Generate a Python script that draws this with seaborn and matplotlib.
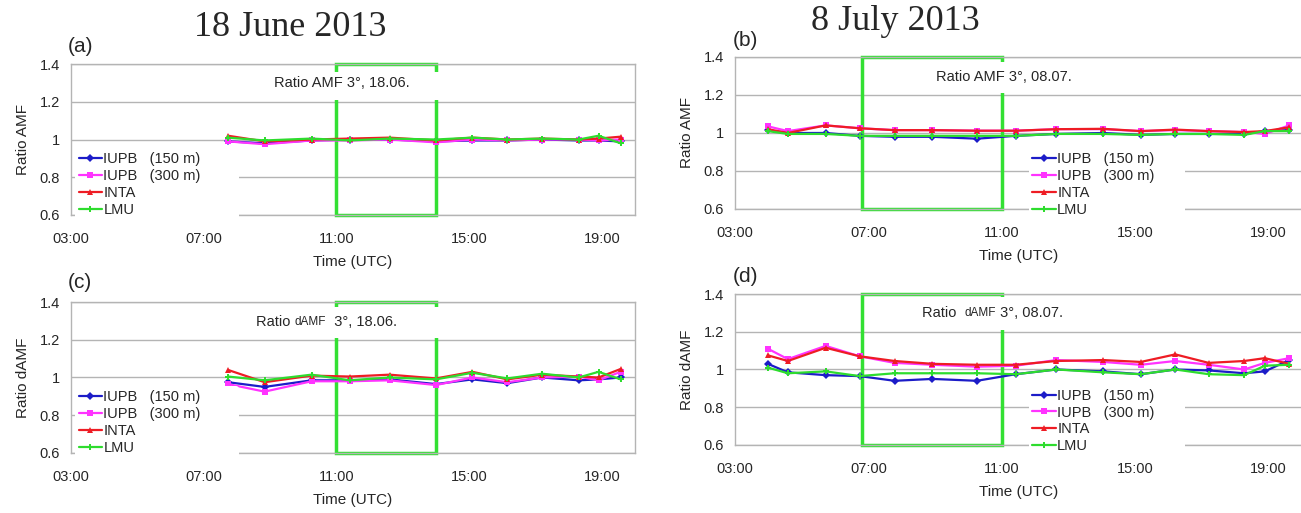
import pandas as pd
import seaborn as sns
import matplotlib.pyplot as plt
from matplotlib.patches import Rectangle

# measurement times (UTC)
times_june = ["07:44", "08:50", "10:15", "11:24", "12:36", "14:00",
              "15:06", "16:09", "17:12", "18:18", "18:54", "19:34"]
times_july = ["03:59", "04:35", "05:43", "06:44", "07:47", "08:55", "10:15", "11:25",
              "12:38", "14:02", "15:10", "16:12", "17:12", "18:16", "18:53", "19:37"]

instruments = ["IUPB   (150 m)", "IUPB   (300 m)", "INTA", "LMU"]

# (a) ratio AMF, 18.06.
amf_june_iupb150 = [0.99, 0.98, 0.995, 1.0, 1.0, 0.99, 0.995, 0.995, 1.0, 0.995, 0.995, 0.99]
amf_june_iupb300 = [0.99, 0.975, 0.995, 0.995, 1.0, 0.985, 1.0, 0.995, 1.0, 1.0, 0.995, 1.0]
amf_june_inta = [1.02, 0.99, 1.0, 1.005, 1.01, 0.995, 1.01, 1.0, 1.005, 1.0, 1.005, 1.015]
amf_june_lmu = [1.01, 0.995, 1.005, 0.995, 1.005, 1.0, 1.01, 1.0, 1.005, 1.0, 1.02, 0.98]

# (c) ratio dAMF, 18.06.
damf_june_iupb150 = [0.975, 0.95, 0.985, 0.985, 0.99, 0.965, 0.99, 0.97, 1.0, 0.985, 0.99, 1.0]
damf_june_iupb300 = [0.965, 0.925, 0.98, 0.98, 0.985, 0.96, 1.0, 0.975, 1.0, 1.005, 0.985, 1.03]
damf_june_inta = [1.04, 0.975, 1.01, 1.005, 1.015, 0.995, 1.03, 0.99, 1.015, 1.005, 1.0, 1.045]
damf_june_lmu = [1.005, 0.985, 1.015, 0.985, 1.0, 0.99, 1.025, 0.995, 1.02, 1.0, 1.03, 0.99]

# (b) ratio AMF, 08.07.
amf_july_iupb150 = [1.015, 1.0, 1.0, 0.985, 0.98, 0.98, 0.97, 0.985,
                    0.995, 1.0, 0.99, 0.995, 0.995, 0.995, 1.01, 1.015]
amf_july_iupb300 = [1.035, 1.01, 1.04, 1.025, 1.015, 1.015, 1.012, 1.012,
                    1.02, 1.02, 1.01, 1.015, 1.01, 1.005, 0.995, 1.04]
amf_july_inta = [1.02, 1.0, 1.04, 1.025, 1.015, 1.015, 1.012, 1.012,
                 1.02, 1.022, 1.01, 1.018, 1.01, 1.005, 1.01, 1.03]
amf_july_lmu = [1.01, 0.995, 0.995, 0.985, 0.985, 0.985, 0.985, 0.985,
                0.995, 0.995, 0.99, 0.995, 0.995, 0.99, 1.01, 1.01]

# (d) ratio dAMF, 08.07.
damf_july_iupb150 = [1.03, 0.985, 0.97, 0.965, 0.94, 0.95, 0.94, 0.975,
                     1.0, 0.99, 0.975, 1.0, 0.995, 0.98, 0.99, 1.05]
damf_july_iupb300 = [1.11, 1.055, 1.125, 1.07, 1.035, 1.025, 1.015, 1.02,
                     1.05, 1.04, 1.025, 1.045, 1.025, 1.0, 1.035, 1.06]
damf_july_inta = [1.075, 1.045, 1.115, 1.07, 1.045, 1.03, 1.025, 1.025,
                  1.045, 1.05, 1.04, 1.08, 1.035, 1.045, 1.06, 1.03]
damf_july_lmu = [1.01, 0.98, 0.99, 0.965, 0.98, 0.98, 0.98, 0.975,
                 1.0, 0.985, 0.975, 1.0, 0.975, 0.97, 1.02, 1.025]

# highlighted time windows (hours UTC)
window_june = (11.0, 14.0)
window_july = (6.8, 11.0)

xtick_hours = [3, 7, 11, 15, 19]
xtick_labels = ["03:00", "07:00", "11:00", "15:00", "19:00"]
ytick_values = [0.6, 0.8, 1.0, 1.2, 1.4]
ytick_labels = ["0.6", "0.8", "1", "1.2", "1.4"]

palette = dict(zip(instruments, ["#1c1cc8", "#ff33ff", "#ee1c24", "#2edc2e"]))
markers = dict(zip(instruments, ["D", "s", "^", "P"]))
BOX_GREEN = "#33e033"
GRID = "#b4b4b4"


def to_long(times, series):
    hours = [int(t[:2]) + int(t[3:]) / 60 for t in times]
    frames = [pd.DataFrame({"hour": hours, "ratio": vals, "instrument": name})
              for name, vals in zip(instruments, series)]
    return pd.concat(frames, ignore_index=True)


def draw_panel(ax, df, window, ylabel, legend_box, label_rect):
    sns.lineplot(data=df, x="hour", y="ratio", hue="instrument", style="instrument",
                 palette=palette, markers=markers, dashes=False, sort=False,
                 lw=1.6, markersize=4.5, markeredgewidth=0, ax=ax)

    ax.set_xlim(3, 20)
    ax.set_ylim(0.6, 1.4)
    ax.set_xticks(xtick_hours)
    ax.set_xticklabels(xtick_labels)
    ax.set_yticks(ytick_values)
    ax.set_yticklabels(ytick_labels)
    ax.tick_params(axis="x", length=4, pad=8, color=GRID, labelsize=10.5)
    ax.tick_params(axis="y", length=5, pad=3, color=GRID, labelsize=10.5)
    ax.yaxis.grid(True, color=GRID, lw=1)
    ax.xaxis.grid(False)
    for sp in ax.spines.values():
        sp.set_visible(True)
        sp.set_color(GRID)
        sp.set_linewidth(1)
    ax.set_xlabel("Time (UTC)", fontsize=11, labelpad=7)
    ax.set_ylabel(ylabel, fontsize=11, labelpad=7)

    # highlighted window
    ax.add_patch(Rectangle((window[0], 0.6), window[1] - window[0], 0.8,
                           fill=False, ec=BOX_GREEN, lw=2.5, zorder=1.8, clip_on=False))
    # white background behind the panel text
    x0, x1, y0, y1 = label_rect
    ax.add_patch(Rectangle((x0, y0), x1 - x0, y1 - y0, transform=ax.transAxes,
                           fc="white", ec="none", zorder=3))

    handles, labels = ax.get_legend_handles_labels()
    ax.legend(handles, labels, loc="lower left", bbox_to_anchor=legend_box,
              mode="expand", frameon=True, facecolor="white", edgecolor="none",
              framealpha=1, fontsize=10.5, handlelength=1.6, handletextpad=0.1,
              labelspacing=0.2, borderpad=0.25, borderaxespad=0)


def mixed_text(ax, x, y, parts):
    # parts: list of (text, fontsize); drawn side by side
    t = ax.text(x, y, parts[0][0], transform=ax.transAxes, fontsize=parts[0][1],
                va="center", ha="left", zorder=4)
    for txt, size in parts[1:]:
        t = ax.annotate(txt, xy=(1, 0.5), xycoords=t, va="center", ha="left",
                        fontsize=size, zorder=4)


sns.set_theme(style="white")
plt.rcParams["font.family"] = ["Liberation Sans", "DejaVu Sans"]

fig = plt.figure(figsize=(13.01, 5.13), dpi=100)
ax_a = fig.add_axes([0.0546, 0.5809, 0.4335, 0.2943])
ax_c = fig.add_axes([0.0546, 0.1170, 0.4335, 0.2943])
ax_b = fig.add_axes([0.5650, 0.5926, 0.4358, 0.2963])
ax_d = fig.add_axes([0.5650, 0.1326, 0.4358, 0.2943])

draw_panel(ax_a, to_long(times_june, [amf_june_iupb150, amf_june_iupb300,
                                      amf_june_inta, amf_june_lmu]),
           window_june, "Ratio AMF", (0.007, -0.035, 0.29, 0.1), (0.30, 0.66, 0.762, 0.947))
draw_panel(ax_c, to_long(times_june, [damf_june_iupb150, damf_june_iupb300,
                                      damf_june_inta, damf_june_lmu]),
           window_june, "Ratio dAMF", (0.007, -0.035, 0.29, 0.1), (0.30, 0.66, 0.762, 0.967))
draw_panel(ax_b, to_long(times_july, [amf_july_iupb150, amf_july_iupb300,
                                      amf_july_inta, amf_july_lmu]),
           window_july, "Ratio AMF", (0.518, -0.075, 0.275, 0.1), (0.31, 0.63, 0.763, 0.967))
draw_panel(ax_d, to_long(times_july, [damf_july_iupb150, damf_july_iupb300,
                                      damf_july_inta, damf_july_lmu]),
           window_july, "Ratio dAMF", (0.518, -0.08, 0.275, 0.1), (0.31, 0.64, 0.762, 0.98))

ax_a.text(0.48, 0.874, "Ratio AMF 3°, 18.06.", transform=ax_a.transAxes,
          ha="center", va="center", fontsize=10.5, zorder=4)
ax_b.text(0.474, 0.868, "Ratio AMF 3°, 08.07.", transform=ax_b.transAxes,
          ha="center", va="center", fontsize=10.5, zorder=4)
mixed_text(ax_c, 0.328, 0.868, [("Ratio ", 10.5), ("dAMF", 8.5), ("  3°, 18.06.", 10.5)])
mixed_text(ax_d, 0.33, 0.874, [("Ratio  ", 10.5), ("dAMF", 8.5), (" 3°, 08.07.", 10.5)])

# panel letters
fig.text(0.052, 1 - 46 / 513, "(a)", fontsize=15, va="center", ha="left")
fig.text(0.563, 1 - 40 / 513, "(b)", fontsize=15, va="center", ha="left")
fig.text(0.052, 1 - 283 / 513, "(c)", fontsize=15, va="center", ha="left")
fig.text(0.563, 1 - 276 / 513, "(d)", fontsize=15, va="center", ha="left")

# day titles
fig.text(290 / 1301, 1 - 28 / 513, "18 June 2013", fontsize=26,
         family=["Liberation Serif", "DejaVu Serif"], ha="center", va="center")
fig.text(895 / 1301, 1 - 22 / 513, "8 July 2013", fontsize=26,
         family=["Liberation Serif", "DejaVu Serif"], ha="center", va="center")

fig.savefig("out.png", dpi=100)
